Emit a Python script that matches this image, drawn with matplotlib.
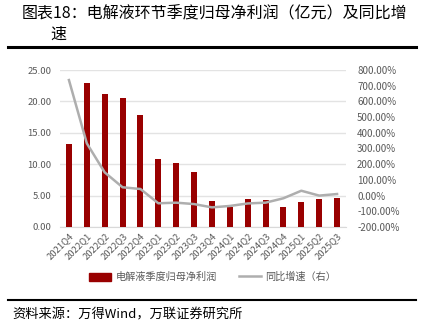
import matplotlib
matplotlib.use("Agg")
import matplotlib.pyplot as plt
from matplotlib.ticker import FuncFormatter, MultipleLocator
from matplotlib.lines import Line2D

plt.rcParams['font.family'] = ['Noto Sans CJK SC', 'DejaVu Sans']

quarters = ["2021Q4", "2022Q1", "2022Q2", "2022Q3", "2022Q4", "2023Q1", "2023Q2",
            "2023Q3", "2023Q4", "2024Q1", "2024Q2", "2024Q3", "2024Q4", "2025Q1",
            "2025Q2", "2025Q3"]
profit = [13.2, 23.0, 21.2, 20.5, 17.9, 10.8, 10.2, 8.7, 4.2, 3.2, 4.4, 4.3, 3.2, 4.0, 4.4, 4.6]
yoy = [736, 333, 148, 53, 42, -49, -45, -54, -75, -66, -50, -45, -17, 31, 0, 10]

bar_label = "电解液季度归母净利润"
line_label = "同比增速（右）"

fig = plt.figure(figsize=(4.25, 3.3), dpi=100)
W, H = 425, 330
ax = fig.add_axes([60 / W, 1 - 227 / H, (346 - 60) / W, (227 - 70) / H])
ax2 = ax.twinx()

x = list(range(len(quarters)))
bar_color = "#990000"
line_color = "#AEAEAE"
tick_color = "#595959"

ax.bar(x, profit, width=0.34, color=bar_color, zorder=3)
ax2.plot(x, yoy, color=line_color, linewidth=1.8, zorder=4)

ax.set_ylim(0, 25)
ax.yaxis.set_major_locator(MultipleLocator(5))
ax.yaxis.set_major_formatter(FuncFormatter(lambda v, p: f"{v:.2f}"))
ax2.set_ylim(-200, 800)
ax2.yaxis.set_major_locator(MultipleLocator(100))
ax2.yaxis.set_major_formatter(FuncFormatter(lambda v, p: f"{v:.2f}%"))
ax.set_xlim(-0.5, len(quarters) - 0.5)

ax.grid(axis="y", color="#E3E3E3", linewidth=1.0, zorder=0)
ax.set_axisbelow(True)
for a in (ax, ax2):
    for s in a.spines.values():
        s.set_visible(False)
ax.spines["bottom"].set_visible(True)
ax.spines["bottom"].set_color("#D9D9D9")

ax.tick_params(axis="y", length=0, labelsize=6.8, labelcolor=tick_color, pad=6)
ax2.tick_params(axis="y", length=0, labelsize=7, labelcolor=tick_color, pad=8)
ax.set_xticks(x)
ax.set_xticklabels(quarters, rotation=45, ha="right", rotation_mode="anchor",
                   fontsize=6.8, color=tick_color)
ax.tick_params(axis="x", length=0, pad=3)

handles = [plt.Rectangle((0, 0), 1, 1, color=bar_color),
           Line2D([0], [0], color=line_color, linewidth=1.8)]
fig.legend(handles, [bar_label, line_label], loc="center", ncol=2,
           bbox_to_anchor=(0.5, 1 - 277 / H), frameon=False, fontsize=7.3,
           labelcolor=tick_color, handlelength=2.2, handleheight=0.8,
           columnspacing=2.2, handletextpad=0.4)

# Title block
fig.text(22 / W, 1 - 14 / H, "图表18：电解液环节季度归母净利润（亿元）及同比增",
         fontsize=11.5, va="center", ha="left")
fig.text(50 / W, 1 - 34 / H, "速", fontsize=11.5, va="center", ha="left")
fig.add_artist(Line2D([8 / W, 416 / W], [1 - 47 / H, 1 - 47 / H], color="black",
                      linewidth=2.2))

# Source line
fig.add_artist(Line2D([8 / W, 416 / W], [1 - 300 / H, 1 - 300 / H], color="black",
                      linewidth=1.5))
fig.text(12 / W, 1 - 315 / H, "资料来源：万得Wind，万联证券研究所", fontsize=9.5,
         va="center", ha="left", style="italic")

fig.savefig("out.png", dpi=100)
